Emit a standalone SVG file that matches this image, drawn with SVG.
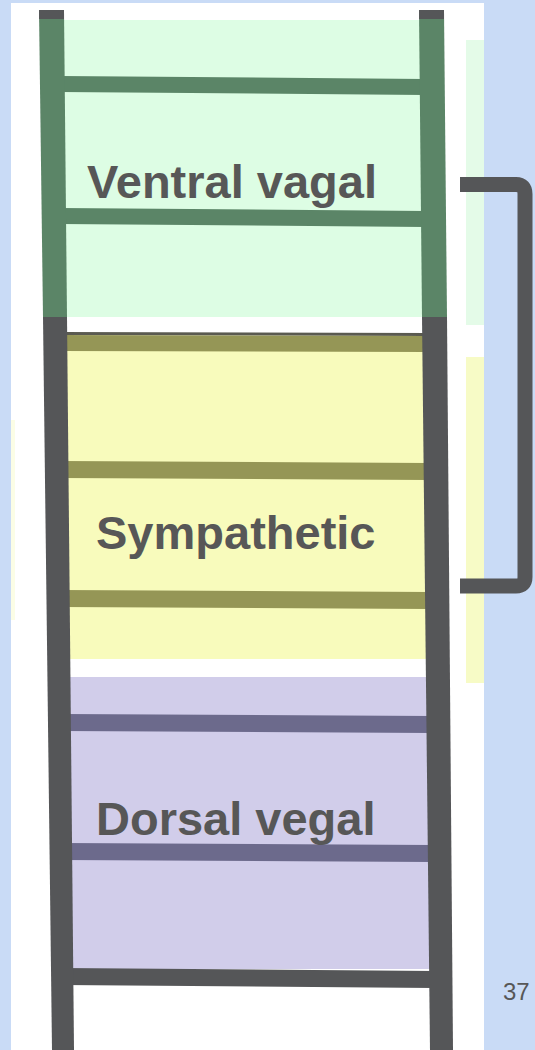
<svg xmlns="http://www.w3.org/2000/svg" width="535" height="1050" viewBox="0 0 535 1050">
  <style>
    .lbl { font-family: "Liberation Sans", Arial, sans-serif; font-weight: bold; font-size: 47px; fill: #575757; }
    .pg { font-family: "Liberation Sans", Arial, sans-serif; font-size: 24px; fill: #575757; }
    .grung { fill: #5b8567; }
    .orung { fill: #959656; }
    .prung { fill: #6c6a8c; }
    .dark { fill: #555658; }
  </style>
  <rect x="0" y="0" width="535" height="1050" fill="#c9dbf6"/>
  <rect x="11" y="3" width="473" height="1047" fill="#ffffff"/>
  <!-- faint side strips -->
  <rect x="466" y="40" width="18" height="285" fill="#e4fbe8"/>
  <rect x="466" y="357" width="18" height="326" fill="#f7fbc6"/>
  <rect x="11" y="420" width="4" height="200" fill="#fbfde6"/>

  <g id="ventral-vagal">
    <rect x="50" y="20" width="380" height="297" fill="#ddfde4"/>
    <polygon class="grung" points="60,76 425,79 425,95 60,92"/>
    <polygon class="grung" points="60,208 425,211 425,227 60,224"/>
    <text class="lbl" x="87" y="198">Ventral vagal</text>
  </g>

  <g id="sympathetic">
    <rect x="58" y="350" width="374" height="309" fill="#f8fbbc"/>
    <polygon points="60,332 428,333 428,336 60,335" fill="#5a5a50"/>
    <polygon class="orung" points="60,335 428,336 428,352 60,351"/>
    <polygon class="orung" points="60,461 428,463 428,480 60,478"/>
    <polygon class="orung" points="60,590 430,592 430,609 60,607"/>
    <text class="lbl" x="96" y="549">Sympathetic</text>
  </g>

  <g id="dorsal-vagal">
    <rect x="60" y="677" width="374" height="292" fill="#d1cdea"/>
    <polygon class="prung" points="62,714 432,716 432,733 62,731"/>
    <polygon class="prung" points="62,843 432,845 432,862 62,860"/>
    <polygon class="dark" points="62,968 434,971 434,988 62,985"/>
    <text class="lbl" x="96" y="835">Dorsal vegal</text>
  </g>

  <g id="rails">
    <polygon fill="#5b8567" points="39,10 64,10 67,317 43,317"/>
    <polygon class="dark" points="43,317 67,317 74,1050 52,1050"/>
    <rect class="dark" x="39" y="10" width="25" height="9"/>
    <polygon fill="#5b8567" points="419,10 444,10 447,317 422,317"/>
    <polygon class="dark" points="422,317 447,317 453,1050 430,1050"/>
    <rect class="dark" x="419" y="10" width="25" height="9"/>
  </g>

  <g id="bracket">
    <path d="M460,184.5 H516 Q525,184.5 525,194 V577 Q525,586 516,586 H460" fill="none" stroke="#555658" stroke-width="15"/>
  </g>

  <g id="page-number">
    <text class="pg" x="503" y="1000">37</text>
  </g>
</svg>
